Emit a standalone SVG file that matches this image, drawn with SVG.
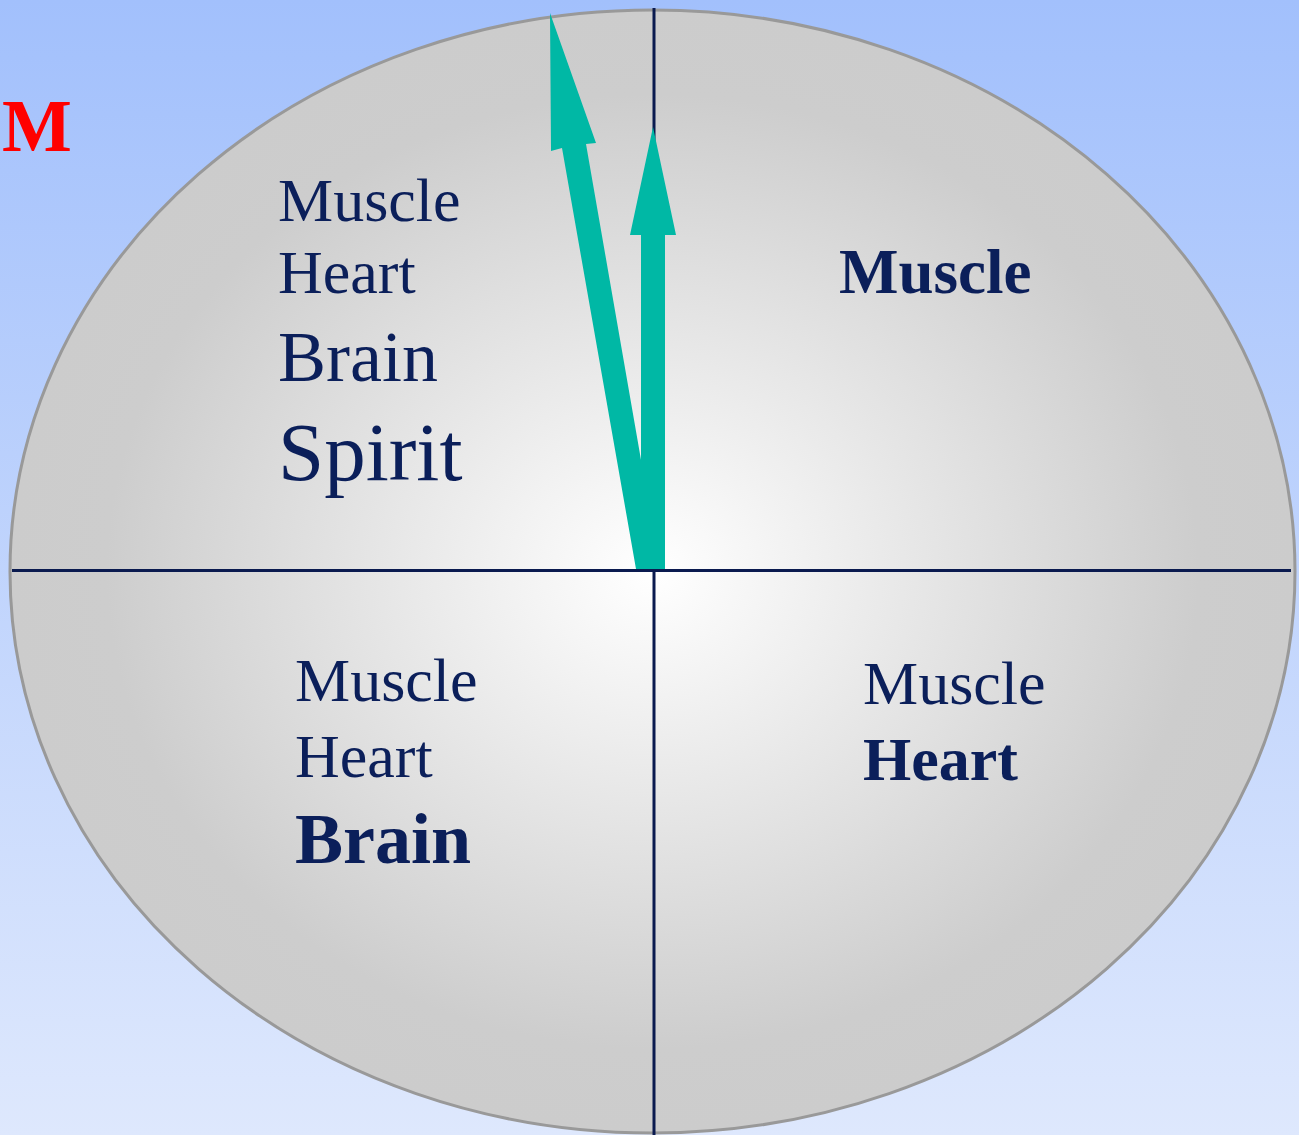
<svg xmlns="http://www.w3.org/2000/svg" width="1299" height="1135" viewBox="0 0 1299 1135">
  <defs>
    <linearGradient id="bg" x1="0" y1="0" x2="0" y2="1">
      <stop offset="0" stop-color="#a2c0fc"/>
      <stop offset="1" stop-color="#dee8fd"/>
    </linearGradient>
    <radialGradient id="disc" cx="0.5" cy="0.5" r="0.5">
      <stop offset="0" stop-color="#ffffff"/>
      <stop offset="0.85" stop-color="#cdcdcd"/>
      <stop offset="1" stop-color="#cccccc"/>
    </radialGradient>
  </defs>
  <style>
    .t { font-family: "Liberation Serif", "Times New Roman", serif; fill: #0b1f5a; }
    .b { font-weight: bold; }
    .axis { stroke: #0a1a4f; stroke-width: 3; fill: none; }
    .arrow { fill: #00b8a5; }
  </style>
  <rect x="0" y="0" width="1299" height="1135" fill="url(#bg)"/>
  <text id="label-M" class="t b" x="2" y="151" font-size="74" style="fill:#ff0000">M</text>
  <g id="circle">
    <ellipse cx="652.5" cy="571.5" rx="642.5" ry="561.5" fill="url(#disc)" stroke="#999999" stroke-width="3"/>
  </g>
  <g id="connectors">
    <line class="axis" x1="654" y1="8" x2="654" y2="1135"/>
    <line class="axis" x1="12" y1="570.5" x2="1291" y2="570.5"/>
    <polygon class="arrow" points="550,13 596,143 586,144 660,569 636,569 562,148 551,151"/>
    <polygon class="arrow" points="653,127 676,235 665,235 665,569 641,569 641,235 630,235"/>
  </g>
  <g id="quadrant-top-left">
    <text class="t" x="278" y="221" font-size="62">Muscle</text>
    <text class="t" x="278" y="293" font-size="62">Heart</text>
    <text class="t" x="278" y="381" font-size="72">Brain</text>
    <text class="t" x="278" y="480" font-size="83">Spirit</text>
  </g>
  <g id="quadrant-top-right">
    <text class="t b" x="839" y="293" font-size="63">Muscle</text>
  </g>
  <g id="quadrant-bottom-left">
    <text class="t" x="295" y="701" font-size="62">Muscle</text>
    <text class="t" x="295" y="777" font-size="62">Heart</text>
    <text class="t b" x="295" y="863" font-size="72">Brain</text>
  </g>
  <g id="quadrant-bottom-right">
    <text class="t" x="863" y="704" font-size="62">Muscle</text>
    <text class="t b" x="863" y="780" font-size="62">Heart</text>
  </g>
</svg>
